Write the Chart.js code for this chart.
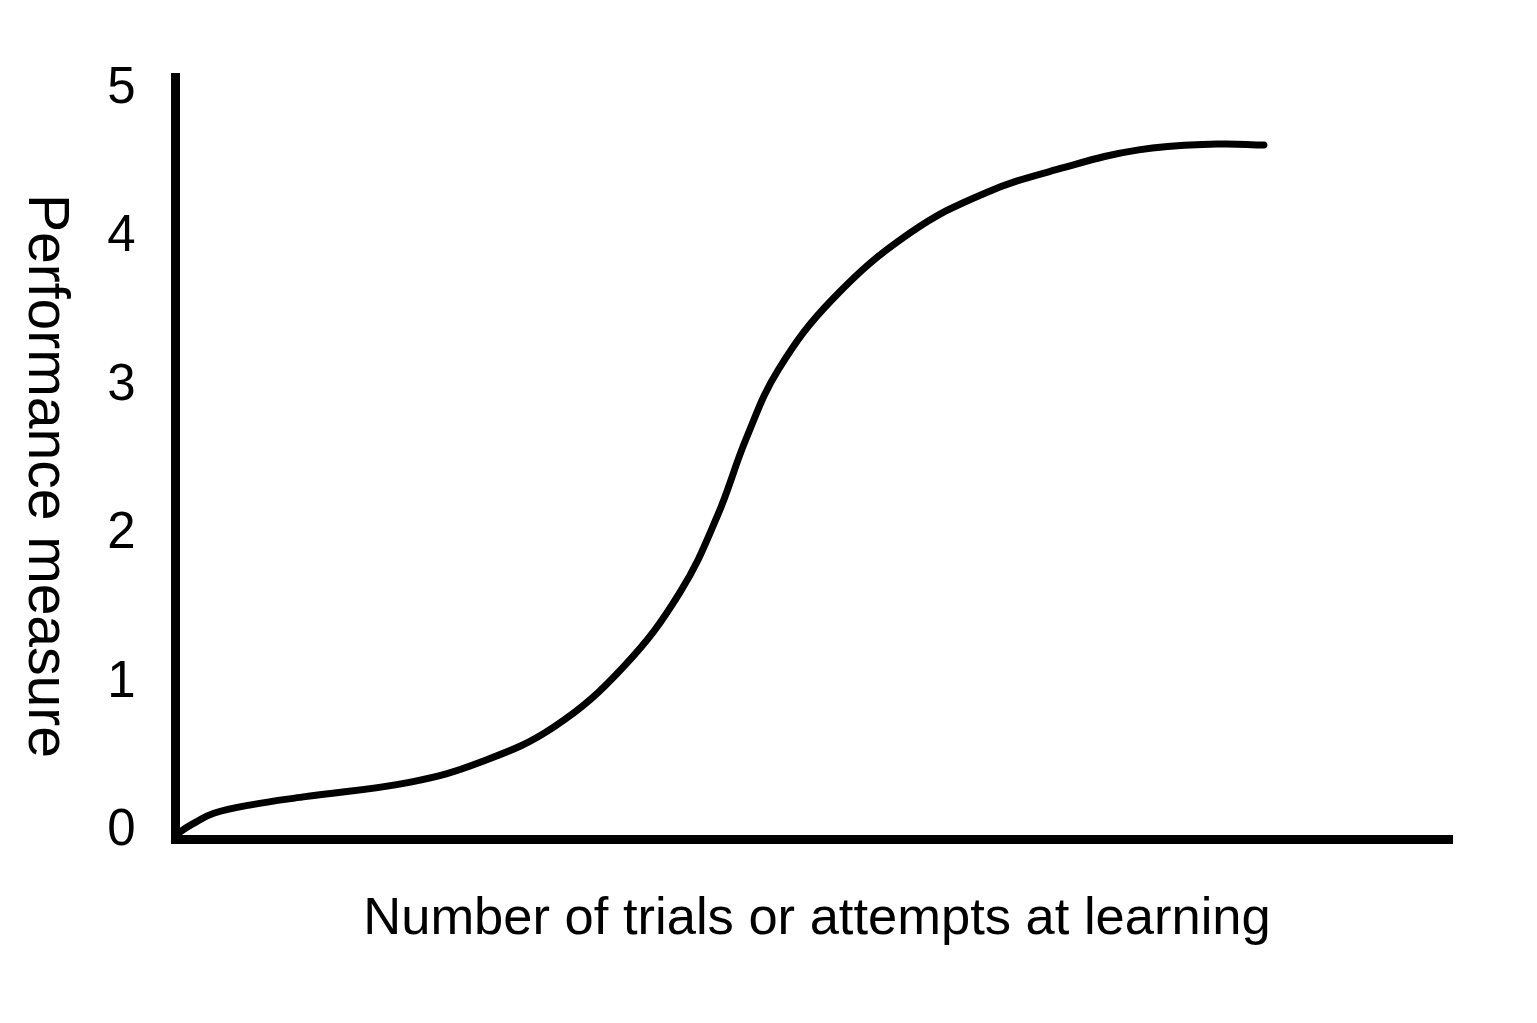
<!DOCTYPE html>
<html>
<head>
<meta charset="utf-8">
<script src="https://cdn.jsdelivr.net/npm/chart.js@4.4.1/dist/chart.umd.min.js"></script>
<style>
  html, body { margin: 0; padding: 0; background: #ffffff; }
  #wrap { width: 1537px; height: 1023px; }
</style>
</head>
<body>
<div id="wrap"><canvas id="c" width="1537" height="1023"></canvas></div>
<script>
// ---- Data ----
const trials = [0, 0.3, 1.6, 3.0, 5.8, 10.0, 18.4, 23.9, 29.6, 35.1, 39.5, 42.4, 44.7, 47.2, 51.5, 57.5, 63.4, 69.5, 75.4, 81.5, 85.2];
const performance = [-0.05, -0.01, 0.06, 0.12, 0.175, 0.23, 0.33, 0.465, 0.70, 1.11, 1.61, 2.12, 2.65, 3.11, 3.59, 4.03, 4.30, 4.47, 4.59, 4.629, 4.623];
const yTickValues = [0, 1, 2, 3, 4, 5];
const xTitle = 'Number of trials or attempts at learning';
const yTitle = 'Performance measure';

const FONT = '"Liberation Sans", Arial, Helvetica, sans-serif';

const axesAndTitles = {
  id: 'axesAndTitles',
  afterDraw(chart) {
    const ctx = chart.ctx;
    const a = chart.chartArea;
    ctx.save();
    ctx.strokeStyle = '#000';
    ctx.lineWidth = 9;
    ctx.lineCap = 'butt';
    ctx.beginPath();
    ctx.moveTo(a.left, a.top);
    ctx.lineTo(a.left, a.bottom + 4.5);
    ctx.moveTo(a.left - 4.5, a.bottom);
    ctx.lineTo(a.right, a.bottom);
    ctx.stroke();

    ctx.fillStyle = '#000';
    ctx.textAlign = 'center';
    ctx.textBaseline = 'middle';
    ctx.font = '52.5px ' + FONT;
    ctx.fillText(xTitle, 817, a.bottom + 80);

    ctx.translate(45, 476);
    ctx.rotate(Math.PI / 2);
    ctx.font = '57px ' + FONT;
    ctx.fillText(yTitle, 0, 0);
    ctx.restore();
  }
};

new Chart(document.getElementById('c'), {
  type: 'line',
  data: {
    datasets: [{
      data: trials.map((x, i) => ({ x: x, y: performance[i] })),
      borderColor: '#000',
      borderWidth: 7,
      pointRadius: 0,
      fill: false,
      tension: 0.4,
      borderCapStyle: 'round',
      borderJoinStyle: 'round'
    }]
  },
  options: {
    responsive: false,
    animation: false,
    devicePixelRatio: 1,
    layout: { padding: { top: 73, right: 84, left: 0, bottom: 0 } },
    plugins: { legend: { display: false }, tooltip: { enabled: false } },
    scales: {
      x: {
        type: 'linear',
        min: 0,
        max: 100,
        ticks: { display: false },
        grid: { display: false, drawTicks: false },
        border: { display: false },
        afterFit: (s) => { s.height = 1023 - 839.5; }
      },
      y: {
        type: 'linear',
        min: -0.057,
        max: 5.108,
        afterBuildTicks: (s) => { s.ticks = yTickValues.map(v => ({ value: v })); },
        ticks: {
          color: '#000',
          padding: 40,
          font: { family: FONT, size: 51 },
          callback: (v) => String(v)
        },
        grid: { display: false, drawTicks: false },
        border: { display: false },
        afterFit: (s) => { s.width = 175.5; }
      }
    }
  },
  plugins: [axesAndTitles]
});
</script>
</body>
</html>
